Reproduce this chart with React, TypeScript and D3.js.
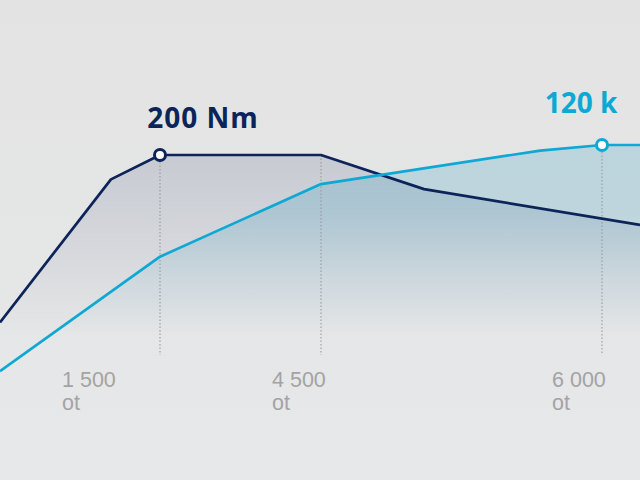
import React from "react";
import * as d3 from "d3";

// x positions in rpm, y values in Nm / kW
const torqueRpm = [0, 1040, 1500, 4500, 5050, 6500];
const torqueNm = [97, 185, 200, 200, 179, 157];
const powerRpm = [0, 1500, 4500, 5670, 6000, 6500];
const powerKw = [39, 80, 106, 118, 120, 120];
const tickRpm = [1500, 4500, 6000];
const tickLabels = ["1 500", "4 500", "6 000"];
const tickUnit = "ot";
const torqueLabel = "200 Nm";
const powerLabel = "120 k";
const torquePeakRpm = 1500;
const torquePeakEndRpm = 4500;
const powerPeakRpm = 6000;

const W = 640;
const H = 480;
const NAVY = "#0c2459";
const CYAN = "#0ea8d4";
const labelOffsets = [-98, -49, -50];

export default function App() {
  const x = d3.scaleLinear().domain([0, 1500, 4500, 6000, 6500]).range([0, 160, 321, 602, 640]);
  const yT = d3.scaleLinear().domain([0, 200]).range([480, 155]);
  const yP = d3.scaleLinear().domain([0, 120]).range([480, 145]);
  const base = 480;

  const tData = torqueRpm.map((r, i) => [r, torqueNm[i]] as [number, number]);
  const pData = powerRpm.map((r, i) => [r, powerKw[i]] as [number, number]);

  const tLine = d3.line<[number, number]>().x(d => x(d[0])).y(d => yT(d[1]))(tData)!;
  const pLine = d3.line<[number, number]>().x(d => x(d[0])).y(d => yP(d[1]))(pData)!;
  const tArea = d3.area<[number, number]>().x(d => x(d[0])).y0(base).y1(d => yT(d[1]))(tData)!;
  const pArea = d3.area<[number, number]>().x(d => x(d[0])).y0(base).y1(d => yP(d[1]))(pData)!;

  const dropBottom = 355;
  const torquePeakVal = d3.max(torqueNm)!;
  const powerPeakVal = d3.max(powerKw)!;
  const drops = [
    { x: x(torquePeakRpm), y: yT(torquePeakVal) },
    { x: x(torquePeakEndRpm), y: yT(torquePeakVal) },
    { x: x(powerPeakRpm), y: yP(powerPeakVal) },
  ];

  return (
    <svg width={W} height={H} style={{ position: "absolute", left: 0, top: 0 }}>
      <defs>
        <linearGradient id="bg" x1="0" y1="0" x2="0" y2="1">
          <stop offset="0" stopColor="#e3e3e3" />
          <stop offset="1" stopColor="#e7e8e9" />
        </linearGradient>
        <linearGradient id="tg" gradientUnits="userSpaceOnUse" x1="0" y1="150" x2="0" y2="335">
          <stop offset="0" stopColor={NAVY} stopOpacity={0.14} />
          <stop offset="0.55" stopColor={NAVY} stopOpacity={0.07} />
          <stop offset="1" stopColor={NAVY} stopOpacity={0} />
        </linearGradient>
        <linearGradient id="pg" gradientUnits="userSpaceOnUse" x1="0" y1="145" x2="0" y2="340">
          <stop offset="0" stopColor="#1a98bf" stopOpacity={0.2} />
          <stop offset="0.35" stopColor="#1a90b8" stopOpacity={0.19} />
          <stop offset="0.7" stopColor="#1a98bf" stopOpacity={0.07} />
          <stop offset="1" stopColor="#1a98bf" stopOpacity={0} />
        </linearGradient>
      </defs>
      <rect x={0} y={0} width={W} height={H} fill="url(#bg)" />
      <path d={tArea} fill="url(#tg)" />
      <path d={pArea} fill="url(#pg)" />
      {drops.map((d, i) => (
        <line key={i} x1={d.x} x2={d.x} y1={d.y} y2={dropBottom} stroke="#8f9499" strokeWidth={1} strokeDasharray="1.5,2" />
      ))}
      <path d={tLine} fill="none" stroke={NAVY} strokeWidth={2.7} strokeLinejoin="round" />
      <path d={pLine} fill="none" stroke={CYAN} strokeWidth={2.7} strokeLinejoin="round" />
      <circle cx={x(torquePeakRpm)} cy={yT(torquePeakVal)} r={5.5} fill="#fff" stroke={NAVY} strokeWidth={3} />
      <circle cx={x(powerPeakRpm)} cy={yP(powerPeakVal)} r={5.5} fill="#fff" stroke={CYAN} strokeWidth={3} />
      <text x={x(torquePeakRpm) + 43} y={yT(torquePeakVal) - 27} textAnchor="middle" fill={NAVY}
        style={{ font: "bold 28px 'Open Sans', sans-serif", letterSpacing: "1px" }}>{torqueLabel}</text>
      <text x={x(powerPeakRpm) - 21} y={yP(powerPeakVal) - 32} textAnchor="middle" fill={CYAN}
        style={{ font: "bold 28px 'Open Sans', sans-serif" }}>{powerLabel}</text>
      {tickRpm.map((r, i) => (
        <text key={r} x={x(r) + labelOffsets[i]} y={387} fill="#a3a3a3"
          style={{ font: "21.5px 'Liberation Sans', Arial, sans-serif" }}>
          <tspan x={x(r) + labelOffsets[i]} dy={0}>{tickLabels[i]}</tspan>
          <tspan x={x(r) + labelOffsets[i]} dy={23}>{tickUnit}</tspan>
        </text>
      ))}
    </svg>
  );
}
